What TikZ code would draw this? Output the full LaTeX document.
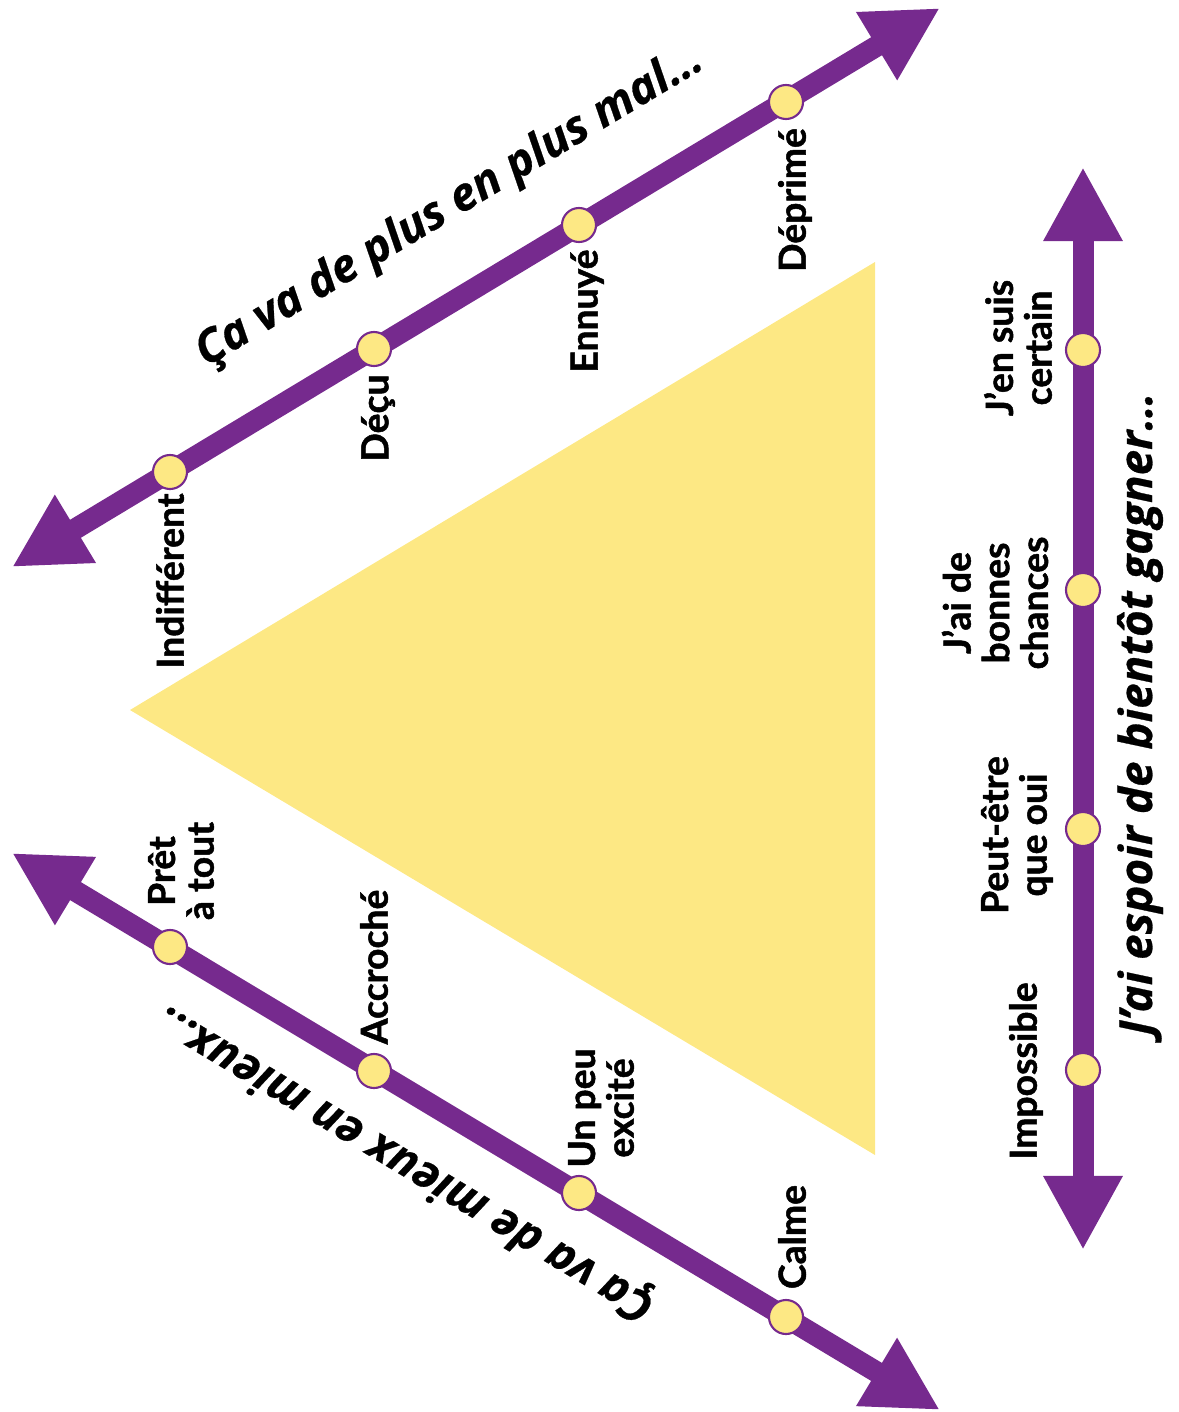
\documentclass[tikz,border=0pt]{standalone}
\usepackage{fontspec}
\setmainfont{Lato}[BoldFeatures={FakeBold=1.3}]
\newfontfamily\titrefont{Open Sans}[BoldItalicFeatures={FakeBold=0.6}]
\usetikzlibrary{arrows.meta}

\definecolor{axeviolet}{RGB}{118,42,142}
\definecolor{jaune}{RGB}{253,232,132}

\tikzset{
  fleche/.tip={Triangle[length=7.4mm,width=7.4mm]},
  axe/.style={line width=2.1mm, color=axeviolet, arrows={fleche-fleche}},
  point/.style={circle, fill=jaune, draw=axeviolet, line width=0.6pt, minimum size=3.4mm, inner sep=0pt},
  etiq/.style={rotate=90, font=\bfseries\fontsize{10.6}{11}\selectfont, align=center, inner sep=0pt},
  titre/.style={font=\titrefont\bfseries\itshape\fontsize{13}{15}\selectfont, inner sep=0pt},
}

\begin{document}
\begin{tikzpicture}[x=0.01cm, y=-0.01cm]
\useasboundingbox (0,0) rectangle (1179,1412);

% le triangle
\fill[jaune] (130,710) -- (875,262) -- (875,1155) -- cycle;

% axe du haut
\coordinate (h1) at (12,567);
\coordinate (h2) at (940,8);
\draw[axe] (h1) -- (h2);
\node[point] (indif) at (170,472) {};
\node[point] (decu) at (374,349) {};
\node[point] (ennui) at (579,225) {};
\node[point] (depri) at (786,102) {};

\node[etiq] (l-indif) at (170,581) {Indifférent};
\node[etiq] (l-decu) at (378,418) {Déçu};
\node[etiq] (l-ennui) at (587,311) {Ennuyé};
\node[etiq] (l-depri) at (795,200) {Déprimé};
\node[titre, rotate=31] (t-haut) at (450,207) {Ça va de plus en plus mal…};

% axe du bas
\coordinate (b1) at (12,853);
\coordinate (b2) at (940,1410);
\draw[axe] (b1) -- (b2);
\node[point] (pret) at (170,947) {};
\node[point] (accro) at (374,1071) {};
\node[point] (excit) at (579,1193) {};
\node[point] (calme) at (786,1317) {};

\node[etiq] (l-pret) at (181,871) {Prêt\\à tout};
\node[etiq] (l-accro) at (374,967) {Accroché};
\node[etiq] (l-excit) at (601,1108) {Un peu\\excité};
\node[etiq] (l-calme) at (792,1237) {Calme};
\node[titre, rotate=149] (t-bas) at (405,1162) {Ça va de mieux en mieux…};

% axe vertical
\coordinate (v1) at (1083,1250);
\coordinate (v2) at (1083,167);
\draw[axe] (v1) -- (v2);
\node[point] (certain) at (1083,350) {};
\node[point] (chances) at (1083,590) {};
\node[point] (oui) at (1083,829) {};
\node[point] (imposs) at (1083,1070) {};

\node[etiq] (l-certain) at (1018,348) {J’en suis\\certain};
\node[etiq] (l-chances) at (995,603) {J’ai de\\bonnes\\chances};
\node[etiq] (l-oui) at (1017,835) {Peut-être\\que oui};
\node[etiq] (l-imposs) at (1026,1071) {Impossible};
\node[titre, rotate=90] (t-droite) at (1140,714) {J’ai espoir de bientôt gagner…};
\end{tikzpicture}
\end{document}
